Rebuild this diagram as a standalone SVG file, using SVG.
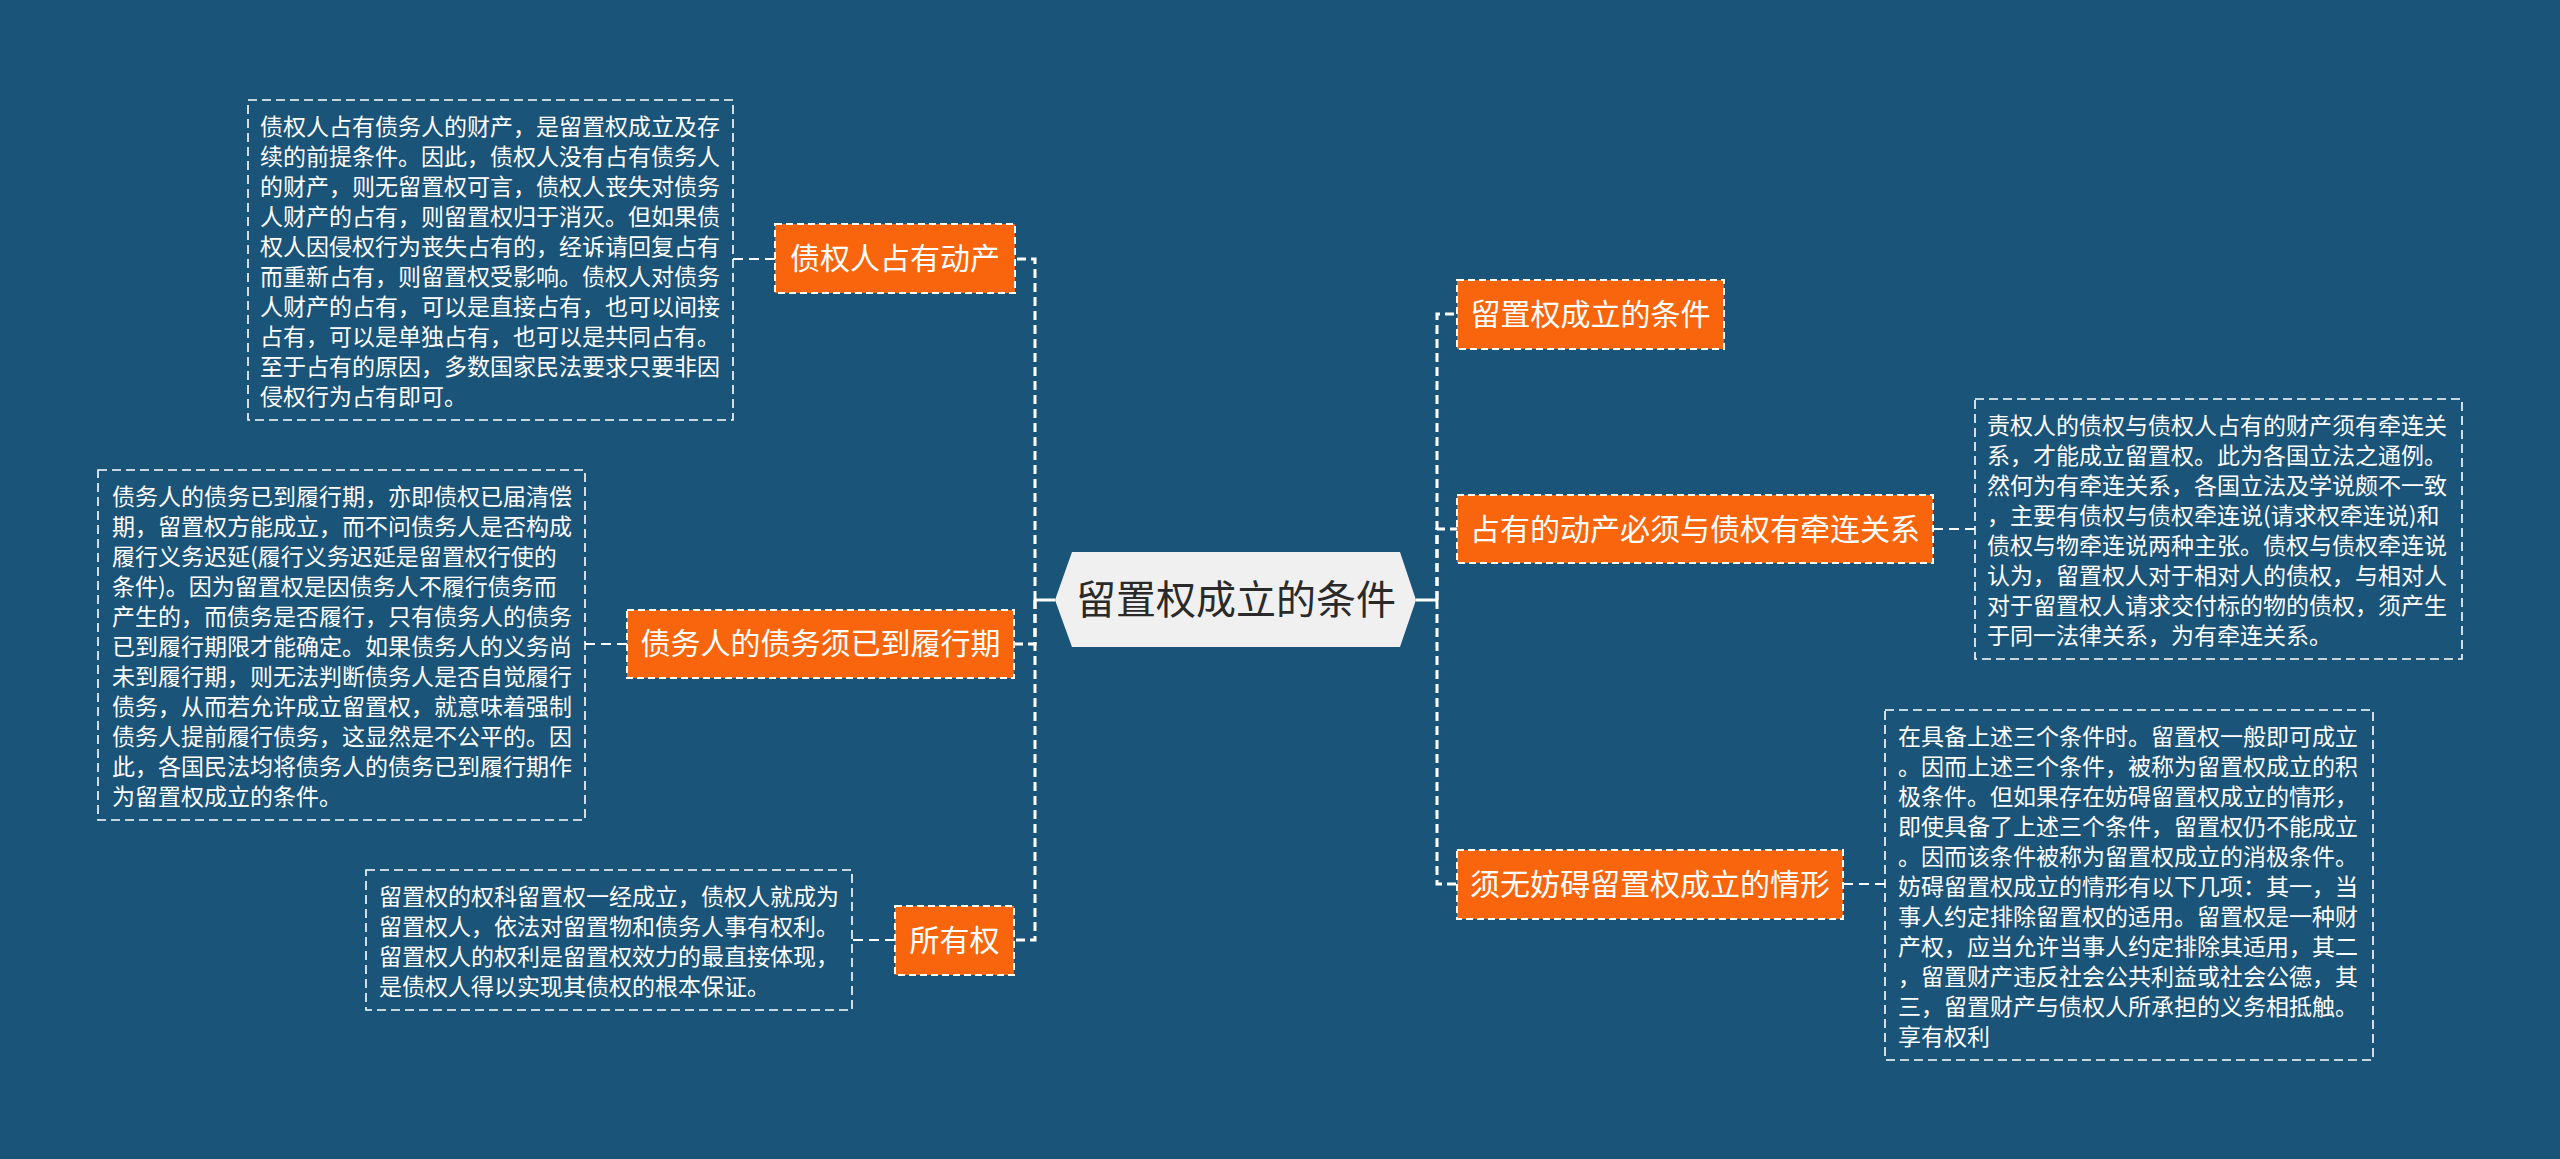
<svg xmlns="http://www.w3.org/2000/svg" width="2560" height="1159" viewBox="0 0 2560 1159">
<style>
.bg{fill:#1b5479}
.topic{fill:#f8650c;stroke:#ffffff;stroke-width:2;stroke-dasharray:7 4}
.topic-t{fill:#ffffff;font-family:"Noto Sans CJK SC","Liberation Sans",sans-serif;font-size:30px;text-anchor:middle}
.detail{fill:none;stroke:#ffffff;stroke-width:1.6;stroke-dasharray:9 5}
.detail-t{fill:#ffffff;font-family:"Noto Sans CJK SC","Liberation Sans",sans-serif;font-size:23px}
.conn{fill:none;stroke:#ffffff;stroke-width:3;stroke-dasharray:9 5}
.conn2{fill:none;stroke:#ffffff;stroke-width:2;stroke-dasharray:10 6}
.root{fill:#f0f0f0}
.root-t{fill:#2a2a2a;font-family:"Noto Sans CJK SC","Liberation Sans",sans-serif;font-size:40px;text-anchor:middle}
</style>
<rect class="bg" x="0" y="0" width="2560" height="1159"/>

<g id="connectors">
  <line x1="1035" y1="600" x2="1055" y2="600" stroke="#ffffff" stroke-width="3"/>
  <line x1="1416" y1="600" x2="1437" y2="600" stroke="#ffffff" stroke-width="3"/>
  <path class="conn" d="M1035 600 V259 H1015"/>
  <path class="conn" d="M1035 600 V644 H1014"/>
  <path class="conn" d="M1035 600 V940 H1014"/>
  <path class="conn" d="M1437 600 V314 H1457"/>
  <path class="conn" d="M1437 600 V529 H1457"/>
  <path class="conn" d="M1437 600 V884 H1457"/>
  <path class="conn2" d="M775 259 H733"/>
  <path class="conn2" d="M627 644 H585"/>
  <path class="conn2" d="M895 940 H852"/>
  <path class="conn2" d="M1933 529 H1975"/>
  <path class="conn2" d="M1843 884 H1885"/>
</g>

<g id="root">
  <polygon class="root" points="1055,600 1072,552 1400,552 1416,600 1400,647 1072,647"/>
  <text class="root-t" x="1236" y="614">留置权成立的条件</text>
</g>

<g id="n-zhanyou">
  <rect class="topic" x="775" y="224" width="240" height="69"/>
  <text class="topic-t" x="895" y="269">债权人占有动产</text>
</g>
<g id="d-zhanyou">
  <rect class="detail" x="248" y="100" width="485" height="320"/>
  <text class="detail-t">
    <tspan x="260" y="135">债权人占有债务人的财产，是留置权成立及存</tspan>
    <tspan x="260" y="165">续的前提条件。因此，债权人没有占有债务人</tspan>
    <tspan x="260" y="195">的财产，则无留置权可言，债权人丧失对债务</tspan>
    <tspan x="260" y="225">人财产的占有，则留置权归于消灭。但如果债</tspan>
    <tspan x="260" y="255">权人因侵权行为丧失占有的，经诉请回复占有</tspan>
    <tspan x="260" y="285">而重新占有，则留置权受影响。债权人对债务</tspan>
    <tspan x="260" y="315">人财产的占有，可以是直接占有，也可以间接</tspan>
    <tspan x="260" y="345">占有，可以是单独占有，也可以是共同占有。</tspan>
    <tspan x="260" y="375">至于占有的原因，多数国家民法要求只要非因</tspan>
    <tspan x="260" y="405">侵权行为占有即可。</tspan>
  </text>
</g>

<g id="n-lvxing">
  <rect class="topic" x="627" y="610" width="387" height="68"/>
  <text class="topic-t" x="820.5" y="654">债务人的债务须已到履行期</text>
</g>
<g id="d-lvxing">
  <rect class="detail" x="98" y="470" width="487" height="350"/>
  <text class="detail-t">
    <tspan x="112" y="505">债务人的债务已到履行期，亦即债权已届清偿</tspan>
    <tspan x="112" y="535">期，留置权方能成立，而不问债务人是否构成</tspan>
    <tspan x="112" y="565">履行义务迟延(履行义务迟延是留置权行使的</tspan>
    <tspan x="112" y="595">条件)。因为留置权是因债务人不履行债务而</tspan>
    <tspan x="112" y="625">产生的，而债务是否履行，只有债务人的债务</tspan>
    <tspan x="112" y="655">已到履行期限才能确定。如果债务人的义务尚</tspan>
    <tspan x="112" y="685">未到履行期，则无法判断债务人是否自觉履行</tspan>
    <tspan x="112" y="715">债务，从而若允许成立留置权，就意味着强制</tspan>
    <tspan x="112" y="745">债务人提前履行债务，这显然是不公平的。因</tspan>
    <tspan x="112" y="775">此，各国民法均将债务人的债务已到履行期作</tspan>
    <tspan x="112" y="805">为留置权成立的条件。</tspan>
  </text>
</g>

<g id="n-suoyou">
  <rect class="topic" x="895" y="906" width="119" height="69"/>
  <text class="topic-t" x="954.5" y="951">所有权</text>
</g>
<g id="d-suoyou">
  <rect class="detail" x="366" y="870" width="486" height="140"/>
  <text class="detail-t">
    <tspan x="379" y="905">留置权的权科留置权一经成立，债权人就成为</tspan>
    <tspan x="379" y="935">留置权人，依法对留置物和债务人事有权利。</tspan>
    <tspan x="379" y="965">留置权人的权利是留置权效力的最直接体现，</tspan>
    <tspan x="379" y="995">是债权人得以实现其债权的根本保证。</tspan>
  </text>
</g>

<g id="n-tiaojian">
  <rect class="topic" x="1457" y="280" width="267" height="69"/>
  <text class="topic-t" x="1590.5" y="325">留置权成立的条件</text>
</g>

<g id="n-qianlian">
  <rect class="topic" x="1457" y="495" width="476" height="68"/>
  <text class="topic-t" x="1695" y="540">占有的动产必须与债权有牵连关系</text>
</g>
<g id="d-qianlian">
  <rect class="detail" x="1975" y="399" width="487" height="260"/>
  <text class="detail-t">
    <tspan x="1987" y="434">责权人的债权与债权人占有的财产须有牵连关</tspan>
    <tspan x="1987" y="464">系，才能成立留置权。此为各国立法之通例。</tspan>
    <tspan x="1987" y="494">然何为有牵连关系，各国立法及学说颇不一致</tspan>
    <tspan x="1987" y="524">，主要有债权与债权牵连说(请求权牵连说)和</tspan>
    <tspan x="1987" y="554">债权与物牵连说两种主张。债权与债权牵连说</tspan>
    <tspan x="1987" y="584">认为，留置权人对于相对人的债权，与相对人</tspan>
    <tspan x="1987" y="614">对于留置权人请求交付标的物的债权，须产生</tspan>
    <tspan x="1987" y="644">于同一法律关系，为有牵连关系。</tspan>
  </text>
</g>

<g id="n-fangai">
  <rect class="topic" x="1457" y="850" width="386" height="69"/>
  <text class="topic-t" x="1650" y="895">须无妨碍留置权成立的情形</text>
</g>
<g id="d-fangai">
  <rect class="detail" x="1885" y="710" width="488" height="350"/>
  <text class="detail-t">
    <tspan x="1898" y="745">在具备上述三个条件时。留置权一般即可成立</tspan>
    <tspan x="1898" y="775">。因而上述三个条件，被称为留置权成立的积</tspan>
    <tspan x="1898" y="805">极条件。但如果存在妨碍留置权成立的情形，</tspan>
    <tspan x="1898" y="835">即使具备了上述三个条件，留置权仍不能成立</tspan>
    <tspan x="1898" y="865">。因而该条件被称为留置权成立的消极条件。</tspan>
    <tspan x="1898" y="895">妨碍留置权成立的情形有以下几项：其一，当</tspan>
    <tspan x="1898" y="925">事人约定排除留置权的适用。留置权是一种财</tspan>
    <tspan x="1898" y="955">产权，应当允许当事人约定排除其适用，其二</tspan>
    <tspan x="1898" y="985">，留置财产违反社会公共利益或社会公德，其</tspan>
    <tspan x="1898" y="1015">三，留置财产与债权人所承担的义务相抵触。</tspan>
    <tspan x="1898" y="1045">享有权利</tspan>
  </text>
</g>
</svg>
